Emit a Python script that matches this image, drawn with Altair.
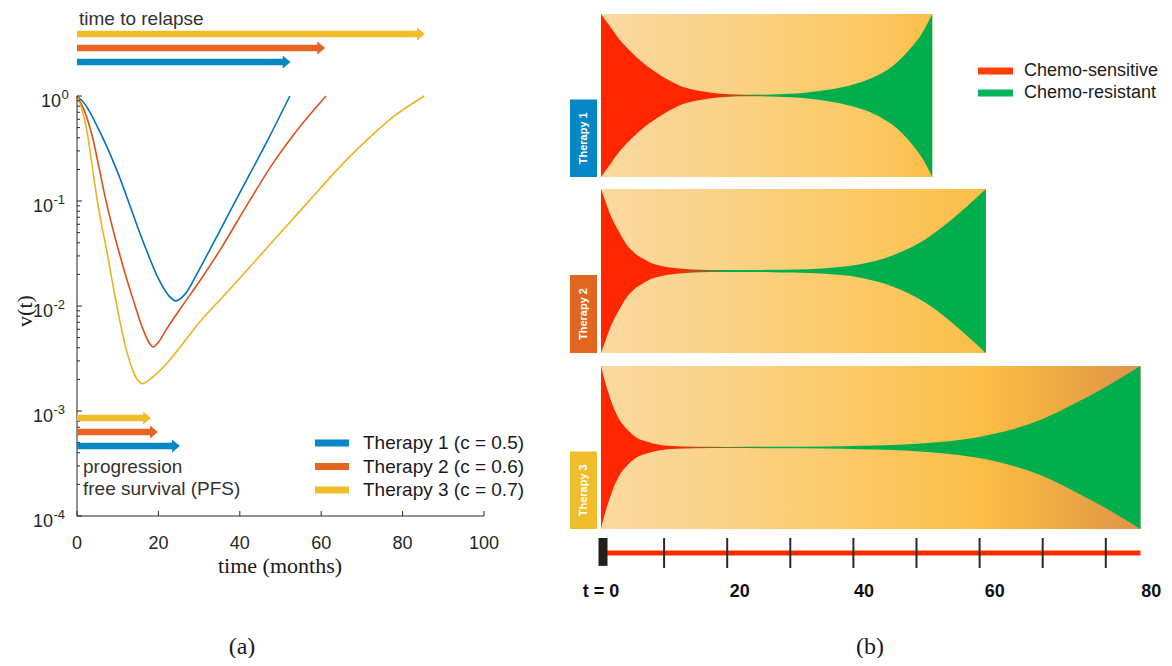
import altair as alt
import pandas as pd

W, H = 1156, 650

# ---------------- data ----------------
therapies = ["Therapy 1", "Therapy 2", "Therapy 3"]
c_values = ["0.5", "0.6", "0.7"]
curve_colors = ["#0072BD", "#D95319", "#EDB120"]
arrow_colors = ["#0887C6", "#E2661F", "#F2BD2C"]

# (a) v(t)
t1_months = [0, 2, 5.6, 9.7, 12.6, 15, 17.9, 20, 22.5, 24.3, 26.5, 29.4, 32.7, 38.4, 42.5,
             46.6, 52.3]
t1_v = [1.0, 0.832, 0.457, 0.200, 0.100, 0.0550, 0.0282, 0.0182, 0.0126, 0.0112, 0.0129,
        0.0200, 0.0347, 0.0912, 0.182, 0.363, 1.0]
t2_months = [0, 1.6, 3.6, 5.4, 6.9, 8.5, 10.2, 12.2, 13.8, 16.3, 17.9, 18.7, 20.3, 22, 26,
             30.2, 35.1, 42.5, 48.5, 54.8, 61.2]
t2_v = [1.0, 0.759, 0.437, 0.209, 0.110, 0.0603, 0.0339, 0.0182, 0.0115, 0.00589, 0.00437,
        0.00407, 0.00468, 0.00603, 0.0102, 0.0174, 0.0339, 0.102, 0.240, 0.513, 1.0]
t3_months = [0, 1, 2.5, 3.7, 4.8, 6, 7.3, 8.5, 9.75, 11, 12.2, 13.8, 15, 16, 17.9, 22, 26, 30.2,
             38, 46.6, 57.2, 64, 71.2, 78, 85.3]
t3_v = [1.0, 0.794, 0.447, 0.219, 0.112, 0.0603, 0.0339, 0.0186, 0.0102, 0.00589, 0.00372,
        0.00240, 0.00195, 0.00182, 0.00200, 0.00282, 0.00437, 0.00708, 0.0151, 0.0355, 0.102,
        0.200, 0.380, 0.646, 1.0]

relapse_months = [52.5, 61.0, 85.5]
pfs_months = [25.3, 19.9, 18.2]

x_ticks_a = [0, 20, 40, 60, 80, 100]
y_major = [1e-4, 1e-3, 1e-2, 1e-1, 1.0]
y_exponents = ["-4", "-3", "-2", "-1", "0"]
y_minor = [m * 10.0 ** e for e in (-4, -3, -2, -1) for m in range(2, 10)]

# (b) fish plots: half-width of the tumour (fraction of panel half-height)
fish1_t = [0, 1.5, 2.8, 4.3, 5.9, 7.5, 9, 10.7, 12.5, 14.5, 16.5, 18.5, 20.5, 23, 25, 27, 29,
           31, 33, 36, 40, 43.1, 46.2, 49.3, 51, 52.5]
fish1_w = [1.0, 0.84, 0.70, 0.57, 0.45, 0.35, 0.27, 0.19, 0.12, 0.075, 0.045, 0.025, 0.014,
           0.009, 0.009, 0.013, 0.019, 0.026, 0.04, 0.07, 0.135, 0.22, 0.36, 0.60, 0.78, 1.0]
fish2_t = [0, 0.7, 1.4, 2.7, 4.0, 5.3, 6.7, 8.0, 9.3, 12.0, 14.6, 17.2, 20, 24, 27, 30.4, 35.6,
           40.9, 46.2, 51.5, 56.7, 61.0]
fish2_w = [1.0, 0.85, 0.70, 0.50, 0.33, 0.22, 0.148, 0.095, 0.066, 0.033, 0.018, 0.012, 0.011,
           0.012, 0.014, 0.018, 0.035, 0.08, 0.19, 0.39, 0.70, 1.0]
fish3_t = [0, 0.45, 0.9, 1.95, 3.0, 4.05, 5.6, 7.2, 9.3, 12, 15, 20, 28, 35.6, 41, 46.2, 50,
           53.6, 56.7, 59.9, 64.1, 69.4, 74.6, 79.9, 85.5]
fish3_w = [1.0, 0.86, 0.74, 0.50, 0.33, 0.23, 0.124, 0.074, 0.033, 0.014, 0.009, 0.007, 0.009,
           0.012, 0.02, 0.03, 0.045, 0.066, 0.092, 0.13, 0.20, 0.33, 0.52, 0.74, 1.0]
red_until = [18.5, 12.5, 10.5]
green_from = [27.0, 20.5, 28.0]

bg_stop_months = [0, 15, 30, 45, 60, 68, 76, 85.5]
bg_stop_colors = ["#FAD9A0", "#FAD48E", "#FBCE76", "#FCC760", "#FCBE48", "#F4B243",
                  "#EAA444", "#E19449"]

clone_names = ["Chemo-sensitive", "Chemo-resistant"]
clone_colors = ["#FF4000", "#00B45C"]

b_ticks = [10, 20, 30, 40, 50, 60, 70, 80]
b_label_text = ["t = 0", "20", "40", "60", "80"]
b_label_pos = [0, 22, 41.7, 62.4, 87.2]

# ---------------- styles ----------------
AXIS = "#262626"
SANS = "Liberation Sans"
SERIF = "Liberation Serif"
RED = "#FF2600"
GREEN = "#00AF4C"
ARROW = "M-0.6,-1L0.6,0L-0.6,1Z"
panel_ranges = [[169, 6], [345, 181], [521, 358]]


def sx_a():
    return alt.Scale(domain=[0, 100], range=[69, 476], nice=False, zero=False)


def sy_a():
    return alt.Scale(type="log", domain=[1e-4, 1], range=[508, 88], nice=False)


def sx_b():
    return alt.Scale(domain=[0, 85.5], range=[593, 1132.5], nice=False, zero=False)


def lane(domain, rng):
    return alt.Scale(type="point", domain=domain, range=rng, padding=0)


def col(rng, dom=therapies):
    return alt.Scale(domain=dom, range=rng)


def grad(stops):
    return {"gradient": "linear", "x1": 0, "y1": 0, "x2": 1, "y2": 0,
            "stops": [{"offset": o, "color": c} for o, c in stops]}


def bg_gradient(T):
    stops = [(m / T, c) for m, c in zip(bg_stop_months, bg_stop_colors) if m <= T]
    nxt = next((c for m, c in zip(bg_stop_months, bg_stop_colors) if m > T), bg_stop_colors[-1])
    stops.append((1, nxt))
    return grad(stops)


def label_chart(text, x, y, **kw):
    return alt.Chart(pd.DataFrame({"s": [text]})).mark_text(**kw).encode(
        text="s:N", x=alt.value(x), y=alt.value(y))


layers = []

# ---------------- panel (a) ----------------
rows = []
for name, ts, vs in zip(therapies, [t1_months, t2_months, t3_months], [t1_v, t2_v, t3_v]):
    rows += [{"therapy": name, "t": t, "v": v} for t, v in zip(ts, vs)]
curve_df = pd.DataFrame(rows)

layers.append(alt.Chart(curve_df).mark_line(strokeWidth=1.6, interpolate="catmull-rom").encode(
    x=alt.X("t:Q", scale=sx_a(), axis=None),
    y=alt.Y("v:Q", scale=sy_a(), axis=None),
    color=alt.Color("therapy:N", scale=col(curve_colors), legend=None)))

axis_df = pd.DataFrame({"x0": [0], "x1": [100], "ylo": [1e-4], "yhi": [1.0]})
layers.append(alt.Chart(axis_df).mark_rule(color=AXIS, strokeWidth=1).encode(
    x=alt.X("x0:Q", scale=sx_a(), axis=None),
    y=alt.Y("ylo:Q", scale=sy_a(), axis=None), y2="yhi:Q"))
layers.append(alt.Chart(axis_df).mark_rule(color=AXIS, strokeWidth=1).encode(
    x=alt.X("x0:Q", scale=sx_a(), axis=None), x2="x1:Q",
    y=alt.Y("ylo:Q", scale=sy_a(), axis=None)))

xt_df = pd.DataFrame({"t": x_ticks_a, "y": [1e-4] * len(x_ticks_a),
                      "label": [str(v) for v in x_ticks_a]})
layers.append(alt.Chart(xt_df).mark_rule(color=AXIS, strokeWidth=1, y2Offset=-5).encode(
    x=alt.X("t:Q", scale=sx_a(), axis=None),
    y=alt.Y("y:Q", scale=sy_a(), axis=None), y2="y:Q"))
layers.append(alt.Chart(xt_df).mark_text(fontSize=18, font=SANS, color=AXIS, baseline="top").encode(
    x=alt.X("t:Q", scale=sx_a(), axis=None), y=alt.value(527), text="label:N"))

ym_df = pd.DataFrame({"v": y_major, "x": [0] * len(y_major), "base": ["10"] * len(y_major),
                      "exp": y_exponents})
yn_df = pd.DataFrame({"v": y_minor, "x": [0] * len(y_minor)})
layers.append(alt.Chart(ym_df).mark_rule(color=AXIS, strokeWidth=1, x2Offset=5).encode(
    x=alt.X("x:Q", scale=sx_a(), axis=None), x2="x:Q",
    y=alt.Y("v:Q", scale=sy_a(), axis=None)))
layers.append(alt.Chart(yn_df).mark_rule(color=AXIS, strokeWidth=1, x2Offset=3).encode(
    x=alt.X("x:Q", scale=sx_a(), axis=None), x2="x:Q",
    y=alt.Y("v:Q", scale=sy_a(), axis=None)))
# tick labels 10^k : base "10" plus a raised exponent
for subset, base_right in [(ym_df[ym_df["exp"] == "0"], 53), (ym_df[ym_df["exp"] != "0"], 45)]:
    layers.append(alt.Chart(subset).mark_text(fontSize=18, font=SANS, color=AXIS, align="right",
                                              baseline="middle", dy=6).encode(
        x=alt.value(base_right), y=alt.Y("v:Q", scale=sy_a(), axis=None), text="base:N"))
    layers.append(alt.Chart(subset).mark_text(fontSize=13, font=SANS, color=AXIS, align="left",
                                              baseline="middle", dy=-1, dx=0.5).encode(
        x=alt.value(base_right), y=alt.Y("v:Q", scale=sy_a(), axis=None), text="exp:N"))

arrow_df = pd.DataFrame({"therapy": therapies, "start": [0, 0, 0],
                         "relapse": relapse_months, "pfs": pfs_months})
order_top = ["Therapy 3", "Therapy 2", "Therapy 1"]
for field, rng in [("relapse", [26, 54]), ("pfs", [410, 438])]:
    layers.append(alt.Chart(arrow_df).mark_rule(strokeWidth=6.5, strokeCap="butt",
                                                x2Offset=-7).encode(
        x=alt.X("start:Q", scale=sx_a(), axis=None), x2=f"{field}:Q",
        y=alt.Y("therapy:N", scale=lane(order_top, rng), axis=None),
        color=alt.Color("therapy:N", scale=col(arrow_colors), legend=None)))
    layers.append(alt.Chart(arrow_df).mark_point(shape=ARROW, size=170, filled=True, opacity=1,
                                                 strokeWidth=0, xOffset=-4).encode(
        x=alt.X(f"{field}:Q", scale=sx_a(), axis=None),
        y=alt.Y("therapy:N", scale=lane(order_top, rng), axis=None),
        color=alt.Color("therapy:N", scale=col(arrow_colors), legend=None)))

leg_df = pd.DataFrame({"therapy": therapies,
                       "label": [f"{t} (c = {c})" for t, c in zip(therapies, c_values)]})
layers.append(alt.Chart(leg_df).mark_rule(strokeWidth=7).encode(
    x=alt.value(307), x2=alt.value(341),
    y=alt.Y("therapy:N", scale=lane(therapies, [435, 482]), axis=None),
    color=alt.Color("therapy:N", scale=col(arrow_colors), legend=None)))
layers.append(alt.Chart(leg_df).mark_text(fontSize=19, font=SANS, color="#1a1a1a", align="left",
                                          baseline="middle").encode(
    x=alt.value(355), y=alt.Y("therapy:N", scale=lane(therapies, [435, 482]), axis=None),
    text="label:N"))

layers.append(label_chart("time to relapse", 71, 11, fontSize=19, font=SANS, color="#333333",
                          align="left", baseline="middle"))
layers.append(label_chart("progression", 75, 459, fontSize=19, font=SANS, color="#333333",
                          align="left", baseline="middle"))
layers.append(label_chart("free survival (PFS)", 75, 481, fontSize=19, font=SANS,
                          color="#333333", align="left", baseline="middle"))
layers.append(label_chart("v(t)", 17, 303, fontSize=22, font=SERIF, color="#1a1a1a",
                          angle=270, align="center", baseline="middle"))
layers.append(label_chart("time (months)", 272, 558, fontSize=22, font=SERIF, color="#1a1a1a",
                          align="center", baseline="middle"))
layers.append(label_chart("(a)", 234, 639, fontSize=24, font=SERIF, color="#1a1a1a",
                          align="center", baseline="middle"))
layers.append(label_chart("(b)", 862, 639, fontSize=24, font=SERIF, color="#1a1a1a",
                          align="center", baseline="middle"))

# ---------------- panel (b) ----------------
fish_t = [fish1_t, fish2_t, fish3_t]
fish_w = [fish1_w, fish2_w, fish3_w]
for i, name in enumerate(therapies):
    T = relapse_months[i]
    ys = alt.Scale(domain=[-1, 1], range=panel_ranges[i], nice=False, zero=False)
    bg_df = pd.DataFrame({"t0": [0], "t1": [T], "lo": [-1], "hi": [1], "mid": [0],
                          "lab": [-0.5], "name": [name]})
    layers.append(alt.Chart(bg_df).mark_rect(fill=bg_gradient(T)).encode(
        x=alt.X("t0:Q", scale=sx_b(), axis=None), x2="t1:Q",
        y=alt.Y("lo:Q", scale=ys, axis=None), y2="hi:Q"))
    f_df = pd.DataFrame({"t": fish_t[i], "w": fish_w[i]})
    f_df["nw"] = -f_df["w"]
    layers.append(alt.Chart(f_df).mark_area(
        interpolate="monotone",
        fill=grad([(0, RED), (red_until[i] / T, RED), (green_from[i] / T, GREEN), (1, GREEN)])
    ).encode(
        x=alt.X("t:Q", scale=sx_b(), axis=None),
        y=alt.Y("w:Q", scale=ys, axis=None), y2="nw:Q"))
    layers.append(alt.Chart(bg_df).mark_rect(fill=arrow_colors[i], xOffset=-31, x2Offset=-4,
                                             y2Offset=4).encode(
        x=alt.X("t0:Q", scale=sx_b(), axis=None), x2="t0:Q",
        y=alt.Y("lo:Q", scale=ys, axis=None), y2="mid:Q"))
    layers.append(alt.Chart(bg_df).mark_text(angle=270, color="white", fontWeight="bold",
                                             fontSize=11, font=SANS, xOffset=-17.5, yOffset=2,
                                             align="center", baseline="middle").encode(
        x=alt.X("t0:Q", scale=sx_b(), axis=None),
        y=alt.Y("lab:Q", scale=ys, axis=None),
        text="name:N"))

clone_df = pd.DataFrame({"clone": clone_names})
layers.append(alt.Chart(clone_df).mark_rule(strokeWidth=7).encode(
    x=alt.value(970), x2=alt.value(1005),
    y=alt.Y("clone:N", scale=lane(clone_names, [63, 85]), axis=None),
    color=alt.Color("clone:N", scale=col(clone_colors, clone_names), legend=None)))
layers.append(alt.Chart(clone_df).mark_text(fontSize=18, font=SANS, color="#1a1a1a",
                                            align="left", baseline="middle").encode(
    x=alt.value(1016), y=alt.Y("clone:N", scale=lane(clone_names, [63, 85]), axis=None),
    text="clone:N"))

ax_y = alt.Scale(domain=[0, 1], range=[560, 530], nice=False, zero=False)
line_df = pd.DataFrame({"t0": [0], "t1": [relapse_months[2]], "y": [0.5], "lo": [0.07], "hi": [1]})
layers.append(alt.Chart(line_df).mark_rule(color="#FF2A00", strokeWidth=5).encode(
    x=alt.X("t0:Q", scale=sx_b(), axis=None), x2="t1:Q",
    y=alt.Y("y:Q", scale=ax_y, axis=None)))
layers.append(alt.Chart(line_df).mark_rule(color="#231F1A", strokeWidth=9, xOffset=2).encode(
    x=alt.X("t0:Q", scale=sx_b(), axis=None),
    y=alt.Y("lo:Q", scale=ax_y, axis=None), y2="hi:Q"))
tick_df = pd.DataFrame({"t": b_ticks, "lo": [0] * len(b_ticks), "hi": [1] * len(b_ticks)})
layers.append(alt.Chart(tick_df).mark_rule(color="#2A2A2A", strokeWidth=2).encode(
    x=alt.X("t:Q", scale=sx_b(), axis=None),
    y=alt.Y("lo:Q", scale=ax_y, axis=None), y2="hi:Q"))
blab_df = pd.DataFrame({"t": b_label_pos, "label": b_label_text})
layers.append(alt.Chart(blab_df).mark_text(fontSize=18, font=SANS, fontWeight="bold",
                                           color="#111111", align="center",
                                           baseline="middle").encode(
    x=alt.X("t:Q", scale=sx_b(), axis=None), y=alt.value(584), text="label:N"))

chart = alt.layer(*layers).resolve_scale(
    x="independent", y="independent", color="independent"
).properties(
    width=W, height=H, padding=0, autosize=alt.AutoSizeParams(type="none")
).configure_view(strokeWidth=0)

chart.save("out.html", embed_options={"renderer": "svg", "actions": False})
